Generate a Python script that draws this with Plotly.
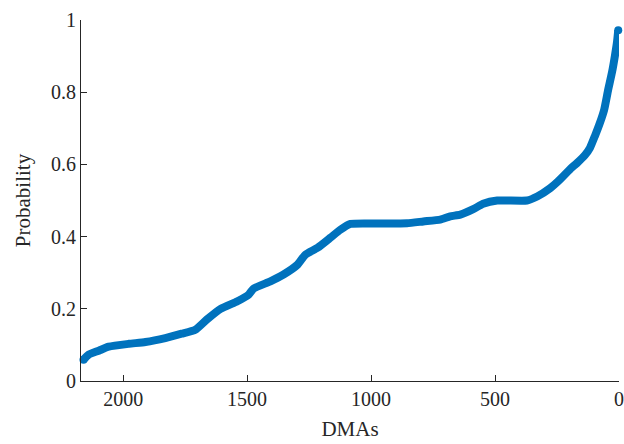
import plotly.graph_objects as go

# DMAs (rank) and probability
dmas = [2160, 2139, 2098, 2058, 1977, 1910, 1830, 1764, 1709, 1663, 1607, 1539,
        1494, 1474, 1406, 1353, 1297, 1265, 1216, 1164, 1124, 1083, 960, 855,
        789, 721, 681, 640, 588, 548, 491, 371, 330, 278, 246, 197, 169, 137,
        117, 97, 77, 60, 44, 28, 16, 8, 3]
prob = [0.059, 0.073, 0.084, 0.095, 0.103, 0.108, 0.119, 0.131, 0.142, 0.170,
        0.200, 0.221, 0.239, 0.256, 0.276, 0.295, 0.322, 0.350, 0.369, 0.397,
        0.419, 0.435, 0.436, 0.437, 0.442, 0.447, 0.456, 0.461, 0.476, 0.491,
        0.500, 0.500, 0.511, 0.534, 0.553, 0.587, 0.604, 0.626, 0.646, 0.679,
        0.715, 0.751, 0.806, 0.856, 0.903, 0.939, 0.972]

x_ticks = [0, 500, 1000, 1500, 2000]
x_ticktext = ["0", "500", "1000", "1500", "2000"]
y_ticks = [0, 0.2, 0.4, 0.6, 0.8, 1]
y_ticktext = ["0", "0.2", "0.4", "0.6", "0.8", "1"]

blue = "#0072BD"
axcol = "#262626"
font = "Liberation Serif"

fig = go.Figure()
fig.add_trace(go.Scatter(
    x=dmas, y=prob, mode="lines",
    line=dict(color=blue, width=8, shape="spline", smoothing=0.5),
    showlegend=False, hoverinfo="skip", cliponaxis=False,
))
# round end caps
fig.add_trace(go.Scatter(
    x=[dmas[0], dmas[-1]], y=[prob[0], prob[-1]], mode="markers",
    marker=dict(color=blue, size=8),
    showlegend=False, hoverinfo="skip", cliponaxis=False,
))

fig.update_layout(
    width=624, height=444,
    margin=dict(l=81, r=5, t=20, b=62.5),
    paper_bgcolor="white", plot_bgcolor="white",
    font=dict(family=font, size=20, color=axcol),
)
fig.update_xaxes(
    range=[2170, -0.01], tickvals=x_ticks, ticktext=x_ticktext,
    ticks="inside", ticklen=6, tickcolor=axcol, tickwidth=1,
    showline=True, linecolor=axcol, linewidth=1, mirror=False,
    showgrid=False, zeroline=False, automargin=False,
    title=dict(text="DMAs", standoff=12, font=dict(family=font, size=21)),
    tickfont=dict(family=font, size=20, color=axcol),
)
fig.update_yaxes(
    range=[0, 1.0001], tickvals=y_ticks, ticktext=y_ticktext,
    ticks="inside", ticklen=6, tickcolor=axcol, tickwidth=1,
    showline=True, linecolor=axcol, linewidth=1, mirror=False,
    showgrid=False, zeroline=False, automargin=False,
    title=dict(text="Probability", standoff=14, font=dict(family=font, size=21)),
    tickfont=dict(family=font, size=20, color=axcol),
)

fig.write_html("out.html")
